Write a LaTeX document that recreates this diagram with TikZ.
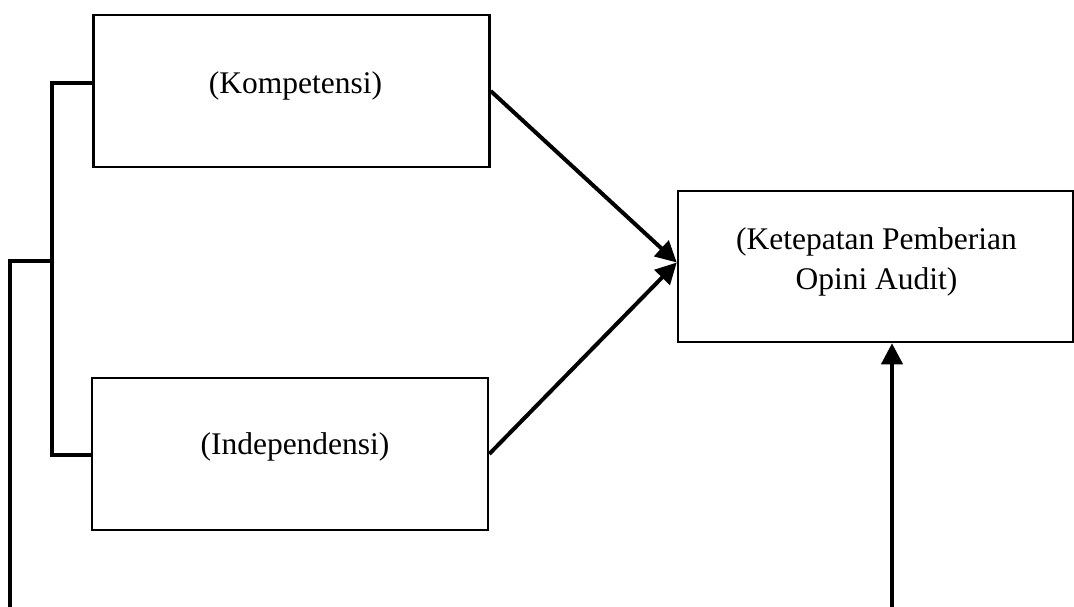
\documentclass[tikz,border=0pt]{standalone}
\usepackage{fontspec}
\setmainfont{Liberation Serif}
\usetikzlibrary{positioning, arrows.meta, calc}

\begin{document}
\begin{tikzpicture}[
        x=1pt, y=-1pt,
        varBox/.style={draw=black, line width=2.5pt, minimum width=396pt, minimum height=152pt, inner sep=0pt},
        varText/.style={font=\fontsize{31.5}{40}\selectfont, align=center},
        linkLine/.style={draw=black, line width=3.4pt},
        inflArrow/.style={draw=black, line width=4pt, -{Triangle[length=21pt,width=21pt]}}
    ]
        \useasboundingbox (0,0) rectangle (1074,607);

        \node[varBox, label={[varText, name=kompText, xshift=4pt, yshift=5pt]center:(Kompetensi)}] (komp) at (291.5,91) {};
        \node[varBox, label={[varText, name=indText, xshift=5pt, yshift=7pt]center:(Independensi)}] (ind) at (290,454) {};
        \node[varBox, minimum width=395pt, minimum height=151pt, label={[varText, name=ketText, xshift=1pt, yshift=5pt]center:(Ketepatan Pemberian\\Opini Audit)}] (ket) at (875.5,266.5) {};

        % kurung penghubung di kiri
        \coordinate (brTop) at (52,83);
        \coordinate (brBot) at (52,455);
        \coordinate (brMid) at (52,261);
        \coordinate (brLeft) at (10,261);
        \coordinate (brEnd) at (10,607);
        \draw[linkLine] (komp.west |- brTop) -- (brTop) -- (brBot) -- (ind.west |- brBot);
        \draw[linkLine] (brMid) -- (brLeft) -- (brEnd);

        \draw[inflArrow] (komp.east) -- ([yshift=4pt]ket.west);
        \draw[inflArrow] (ind.east) -- ([yshift=4pt]ket.west);

        \coordinate (auditIn) at (892,607);
        \draw[inflArrow] (auditIn) -- (auditIn |- ket.south);
    \end{tikzpicture}
\end{document}
